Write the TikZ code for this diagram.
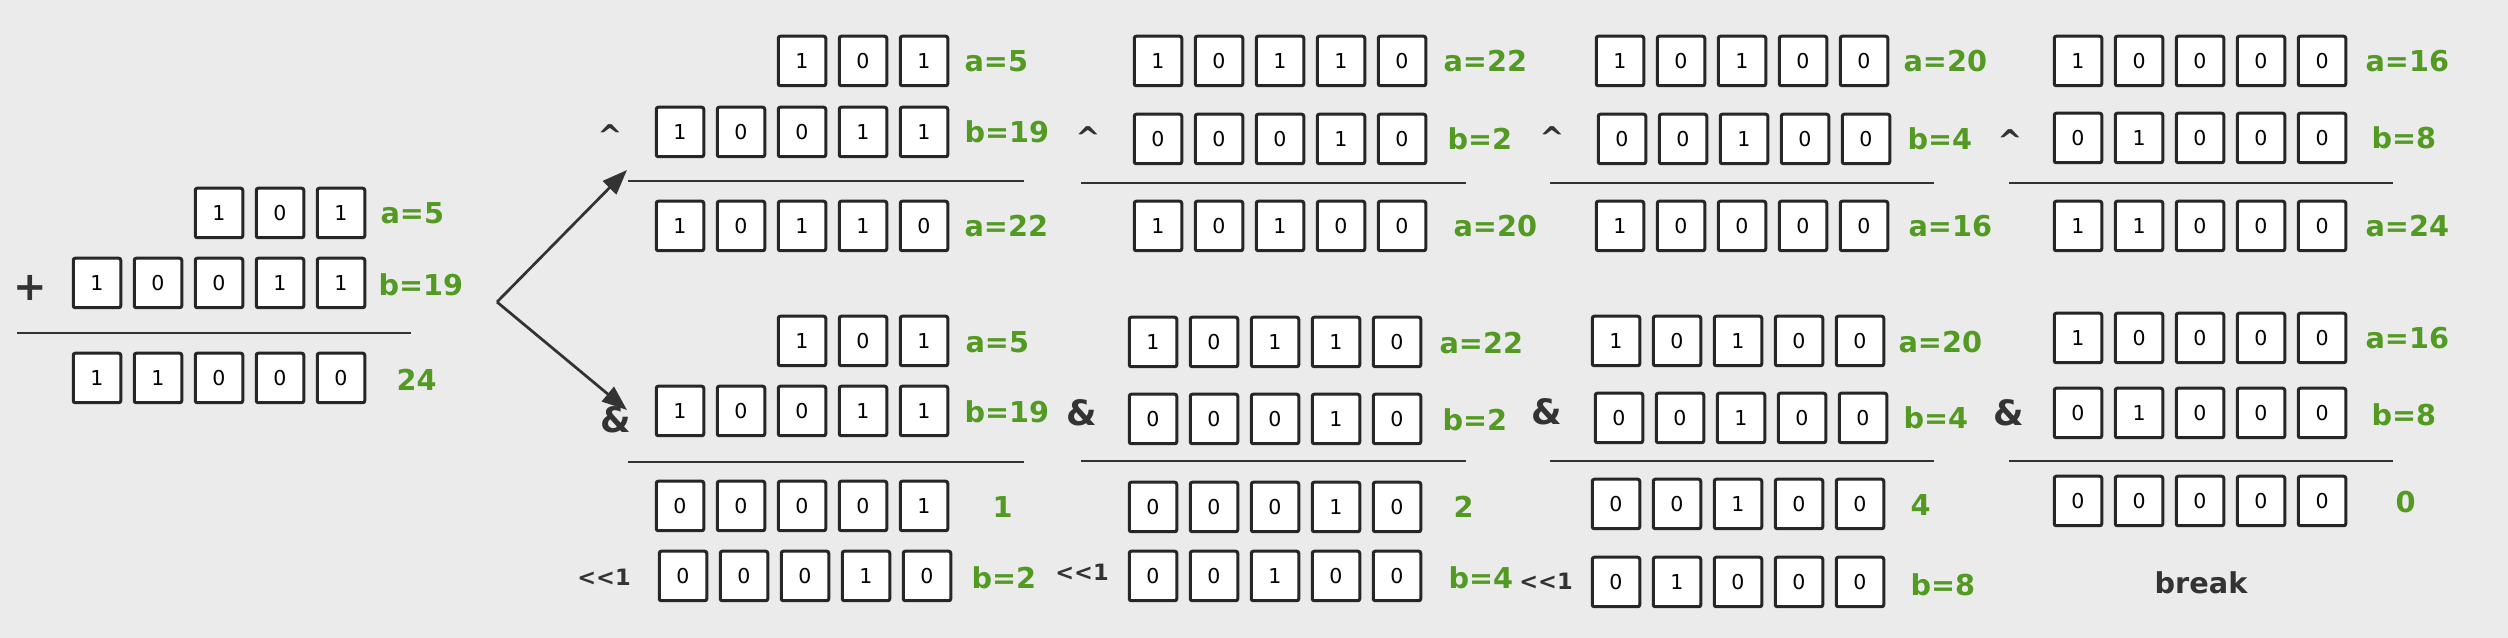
\documentclass[tikz,border=0pt]{standalone}
\usepackage{fontspec}
\setmainfont{DejaVu Sans}
\usepackage{xcolor}
\usetikzlibrary{arrows.meta}

\definecolor{bg}{RGB}{235,235,235}
\definecolor{valgreen}{RGB}{82,154,34}
\definecolor{ink}{RGB}{51,51,51}

\begin{document}
\begin{tikzpicture}[x=0.4pt, y=-0.4pt]
    % Define styles
    \tikzstyle{bit} = [rectangle, draw=black!85, line width=1.2pt, fill=white, rounded corners=0.8pt, minimum width=19pt, minimum height=19.8pt, inner sep=0pt, font=\fontsize{8.2}{9}\selectfont]
    \tikzstyle{val} = [anchor=west, inner sep=0pt, text=valgreen, font=\bfseries\fontsize{11.5}{13}\selectfont]
    \tikzstyle{op} = [inner sep=0pt, text=ink, font=\bfseries\fontsize{12}{14}\selectfont]
    \tikzstyle{rule} = [draw=ink, line width=1.1pt]
    \tikzstyle{arrow} = [draw=ink, line width=1.1pt, -{Triangle[length=10pt,width=7.5pt]}]

    % Background
    \fill[bg] (0,0) rectangle (2508,638);

    % Bit rows: name / left of first box / centre y / bits
    \foreach \n/\x/\y/\bits in {
        add-a/194/213/{1,0,1}, add-b/72/283/{1,0,0,1,1}, add-s/72/378/{1,1,0,0,0},
        x1-a/777/61/{1,0,1}, x1-b/655/132/{1,0,0,1,1}, x1-s/655/226/{1,0,1,1,0},
        x2-a/1133/61/{1,0,1,1,0}, x2-b/1133/139/{0,0,0,1,0}, x2-s/1133/226/{1,0,1,0,0},
        x3-a/1595/61/{1,0,1,0,0}, x3-b/1597/139/{0,0,1,0,0}, x3-s/1595/226/{1,0,0,0,0},
        x4-a/2053/61/{1,0,0,0,0}, x4-b/2053/138/{0,1,0,0,0}, x4-s/2053/226/{1,1,0,0,0},
        n1-a/777/341/{1,0,1}, n1-b/655/411/{1,0,0,1,1}, n1-s/655/506/{0,0,0,0,1}, n1-c/658/576/{0,0,0,1,0},
        n2-a/1128/342/{1,0,1,1,0}, n2-b/1128/419/{0,0,0,1,0}, n2-s/1128/507/{0,0,0,1,0}, n2-c/1128/576/{0,0,1,0,0},
        n3-a/1591/341/{1,0,1,0,0}, n3-b/1594/418/{0,0,1,0,0}, n3-s/1591/504/{0,0,1,0,0}, n3-c/1591/582/{0,1,0,0,0},
        n4-a/2053/338/{1,0,0,0,0}, n4-b/2053/413/{0,1,0,0,0}, n4-s/2053/501/{0,0,0,0,0}}
        \foreach \b [count=\i from 0] in \bits
            \node[bit] (\n-\i) at ({\x+25+61*\i},\y) {\b};

    % Values
    \foreach \x/\y/\t [count=\k] in {
        380/213/a=5, 378/285/b=19, 396/380/24,
        964/61/a=5, 964/132/b=19, 964/226/a=22,
        1443/61/a=22, 1447/139/b=2, 1453/226/a=20,
        1903/61/a=20, 1907/139/b=4, 1908/226/a=16,
        2365/61/a=16, 2371/138/b=8, 2365/226/a=24,
        965/342/a=5, 964/412/b=19, 992/507/1, 971/578/b=2,
        1439/343/a=22, 1442/420/b=2, 1453/507/2, 1448/578/b=4,
        1898/342/a=20, 1903/418/b=4, 1910/505/4, 1910/585/b=8,
        2365/338/a=16, 2371/415/b=8, 2395/502/0}
        \node[val] (v\k) at (\x,\y) {\t};

    % Operators
    \node[op, font=\bfseries\fontsize{16}{18}\selectfont] (plus) at (30,288) {+};
    \foreach \x/\y [count=\k] in {610/136, 1088/138, 1552/138, 2010/141}
        \node[op] (xor\k) at (\x,\y) {\textasciicircum};
    \foreach \x/\y [count=\k] in {616/420, 1082/413, 1547/412, 2009/413}
        \node[op, font=\bfseries\fontsize{14}{16}\selectfont] (and\k) at (\x,\y) {\&};
    \foreach \x/\y [count=\k] in {604/577, 1082/572, 1546/581}
        \node[op, font=\bfseries\fontsize{9}{11}\selectfont] (shl\k) at (\x,\y) {<{}<1};
    \node[op, font=\bfseries\fontsize{11.5}{13}\selectfont] (stop) at (2201,583) {break};

    % Rules
    \draw[rule] (17,333) -- (411,333);
    \foreach \a/\b/\y in {628/1024/181, 1081/1466/183, 1550/1934/183, 2009/2393/183,
                          628/1024/462, 1081/1466/461, 1550/1934/461, 2009/2393/461}
        \draw[rule] (\a,\y) -- (\b,\y);

    % Arrows
    \coordinate (split) at (497,302);
    \coordinate (xorin) at (627,170);
    \coordinate (andin) at (627,410);
    \draw[arrow] (split) -- (xorin);
    \draw[arrow] (split) -- (andin);
\end{tikzpicture}
\end{document}
